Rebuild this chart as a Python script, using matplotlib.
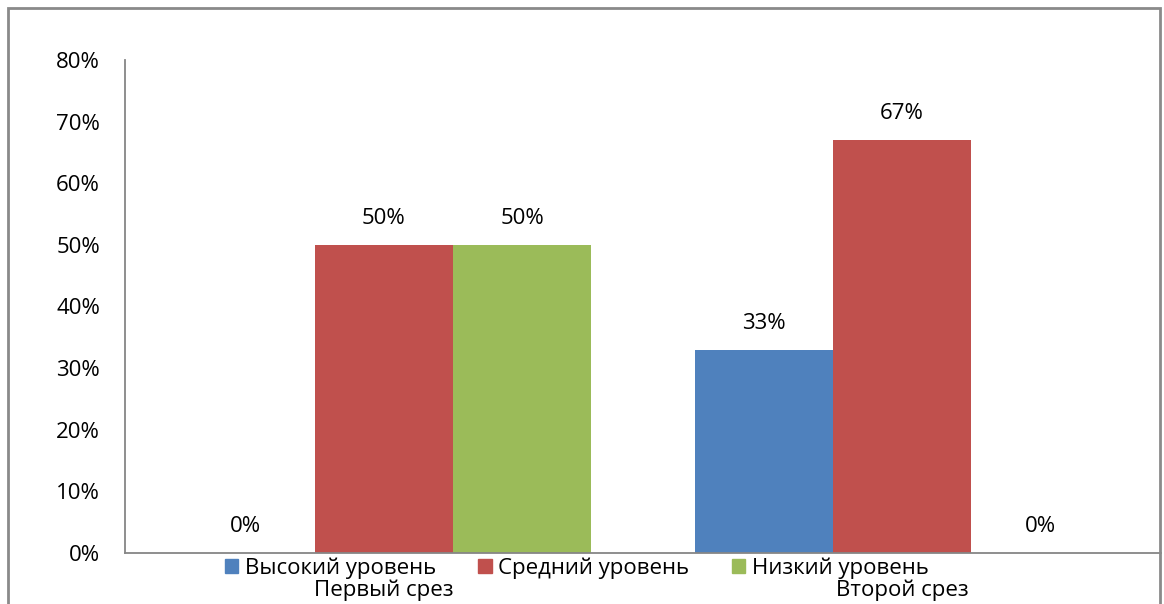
import matplotlib
matplotlib.use("Agg")
import matplotlib.pyplot as plt
from matplotlib.patches import Rectangle, Patch
import numpy as np

categories = ["Первый срез", "Второй срез"]
series_names = ["Высокий уровень", "Средний уровень", "Низкий уровень"]
high = [0, 33]
medium = [50, 67]
low = [50, 0]
colors = ["#4F81BD", "#C0504D", "#9BBB59"]
yticks = [0, 10, 20, 30, 40, 50, 60, 70, 80]

plt.rcParams['font.family'] = ['Open Sans', 'DejaVu Sans']
FS = 16

W, H = 1164, 604
fig = plt.figure(figsize=(W / 100, H / 100), dpi=100)
ax = fig.add_axes([125 / W, 1 - 553 / H, (1161 - 125) / W, 493 / H])

x = np.arange(len(categories))
bw = 1 / 3.75
for i, (vals, name, c) in enumerate(zip([high, medium, low], series_names, colors)):
    pos = x + (i - 1) * bw
    ax.bar(pos, vals, width=bw, color=c, label=name)
    for px, v in zip(pos, vals):
        ax.annotate(f"{v}%", (px, v), xytext=(0, 19), textcoords="offset points",
                    ha="center", va="center", fontsize=FS, color="black")

ax.set_xlim(-0.5, 1.5)
ax.set_ylim(0, 80)
ax.set_yticks(yticks)
ax.set_yticklabels([f"{t}%" for t in yticks])
ax.set_xticks(x)
ax.set_xticklabels(categories)
ax.tick_params(axis="y", length=0, pad=18, labelsize=FS)
ax.tick_params(axis="x", length=0, pad=19, labelsize=FS)
for s in ["top", "right"]:
    ax.spines[s].set_visible(False)
for s in ["left", "bottom"]:
    ax.spines[s].set_color("#868686")
    ax.spines[s].set_linewidth(1.3)

handles = [Patch(color=c, label=n) for c, n in zip(colors, series_names)]
ax.legend(handles=handles, loc="center", bbox_to_anchor=(0.436, -0.030), ncol=3,
          frameon=False, fontsize=FS, handlelength=0.6, handleheight=0.6,
          handletextpad=0.3, columnspacing=1.9, borderaxespad=0, borderpad=0)

fig.patches.append(Rectangle((8 / W, -0.1), (1160 - 8) / W, 1.1 - 8 / H,
                             transform=fig.transFigure, fill=False,
                             edgecolor="#8a8a8a", linewidth=2, zorder=10))

fig.savefig("out.png", dpi=100)
